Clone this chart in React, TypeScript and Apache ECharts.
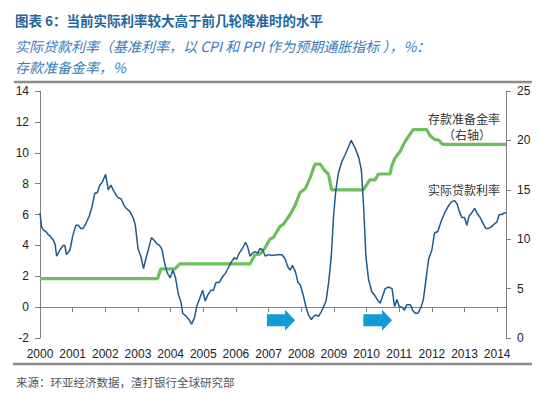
import React, { useEffect, useRef } from "react";
import * as echarts from "echarts";

const realRateYears = [
  2000.0, 2000.05, 2000.1, 2000.18, 2000.25, 2000.31, 2000.39, 2000.46, 2000.51, 2000.61, 2000.71, 2000.76, 2000.81, 2000.92,
  2001.0, 2001.1, 2001.17, 2001.25, 2001.32, 2001.4, 2001.51, 2001.58, 2001.68, 2001.75, 2001.83, 2001.91,
  2002.01, 2002.09, 2002.17, 2002.24, 2002.32, 2002.39, 2002.49, 2002.57, 2002.64, 2002.75, 2002.85, 2002.92,
  2003.0, 2003.1, 2003.17, 2003.25, 2003.34, 2003.41, 2003.51, 2003.58, 2003.66, 2003.74, 2003.81, 2003.9,
  2003.99, 2004.07, 2004.15, 2004.24, 2004.32, 2004.37, 2004.48, 2004.56, 2004.64, 2004.73, 2004.8, 2004.88,
  2004.98, 2005.06, 2005.14, 2005.24, 2005.31, 2005.39, 2005.49, 2005.6, 2005.68, 2005.78, 2005.85,
  2005.95, 2006.02, 2006.1, 2006.2, 2006.29, 2006.36, 2006.43, 2006.51, 2006.59, 2006.67, 2006.73, 2006.82, 2006.9,
  2007.0, 2007.1, 2007.26, 2007.41, 2007.51, 2007.59, 2007.66, 2007.73, 2007.82, 2007.9, 2007.97,
  2008.07, 2008.14, 2008.22, 2008.31, 2008.38, 2008.45, 2008.53, 2008.61, 2008.68, 2008.76, 2008.84, 2008.92, 2008.99,
  2009.06, 2009.14, 2009.24, 2009.35, 2009.45, 2009.53, 2009.65, 2009.76, 2009.84, 2009.91, 2009.98,
  2010.06, 2010.16, 2010.27, 2010.35, 2010.42, 2010.49, 2010.57, 2010.67, 2010.78, 2010.86, 2010.93,
  2011.0, 2011.08, 2011.16, 2011.23, 2011.34, 2011.41, 2011.49, 2011.57, 2011.67, 2011.74, 2011.82, 2011.9,
  2012.0, 2012.08, 2012.18, 2012.29, 2012.39, 2012.49, 2012.59, 2012.69, 2012.77, 2012.84, 2012.92,
  2013.0, 2013.07, 2013.14, 2013.22, 2013.31, 2013.38, 2013.48, 2013.55, 2013.65, 2013.73, 2013.82, 2013.92,
  2013.99, 2014.06, 2014.14, 2014.22, 2014.27,
];
const realRateValues = [
  6.1, 5.2, 5.0, 4.9, 4.7, 4.6, 4.4, 4.1, 3.3, 3.7, 4.0, 4.0, 3.4, 3.7,
  4.6, 5.3, 5.3, 5.1, 5.1, 5.4, 5.9, 6.4, 7.4, 7.4, 7.9, 8.1,
  8.6, 7.6, 7.9, 7.6, 7.3, 7.1, 7.0, 6.6, 6.4, 6.2, 5.8, 5.3,
  3.8, 3.2, 2.5, 3.2, 3.9, 4.5, 4.3, 4.1, 4.0, 3.7, 2.9, 2.2,
  1.9, 2.4, 1.9, 0.8, 0.3, -0.4, -0.6, -0.8, -1.1, -0.7, 0.05, 0.5,
  1.1, 0.4, 0.8, 1.1, 1.1, 1.6, 1.6, 2.0, 2.2, 2.6, 2.9,
  3.2, 3.1, 3.5, 3.8, 4.2, 3.9, 3.3, 3.5, 3.6, 3.5, 3.8, 3.7, 3.3,
  3.4, 3.35, 3.4, 3.4, 3.1, 2.6, 2.4, 2.7, 2.3, 1.6, 1.45,
  0.7, 0.04, -0.5, -0.8, -0.6, -0.5, -0.6, -0.3, 0.0, 0.4, 1.6, 3.3, 5.9,
  7.6, 8.7, 9.4, 9.9, 10.4, 10.8, 10.3, 9.7, 8.9, 6.5, 3.3,
  1.8, 1.0, 0.7, 0.4, 0.26, 0.7, 1.2, 1.3, 1.2, 0.04, 0.5,
  0.04, 0.0, -0.2, 0.15, 0.15, -0.2, -0.4, -0.4, 0.0, 0.5, 1.8, 3.1,
  3.7, 4.8, 4.9, 5.6, 6.1, 6.5, 6.8, 6.9, 6.7, 6.2, 5.8,
  5.8, 5.3, 5.9, 6.1, 6.4, 6.1, 5.8, 5.5, 5.1, 5.1, 5.2, 5.4,
  5.5, 6.0, 6.0, 6.1, 6.1,
];

// Reserve requirement ratio (right axis, %)
const rrrYears = [
  2000.0, 2003.6, 2003.7, 2004.13, 2004.28, 2006.43, 2006.58, 2006.74, 2006.89, 2007.04, 2007.15, 2007.35,
  2007.45, 2007.66, 2007.81, 2007.96, 2008.12, 2008.27, 2008.42, 2008.58, 2008.73, 2008.83, 2008.93,
  2009.9, 2010.1, 2010.26, 2010.36, 2010.72, 2010.77, 2010.87, 2011.03, 2011.18, 2011.43, 2011.84,
  2011.94, 2012.08, 2012.22, 2012.32, 2014.27,
];
const rrrValues = [
  6.0, 6.0, 7.0, 7.0, 7.5, 7.5, 8.4, 8.5, 9.1, 10.0, 10.2, 11.3,
  11.5, 12.5, 13.4, 14.7, 15.1, 16.2, 17.6, 17.6, 16.9, 16.6, 15.0,
  15.0, 16.0, 16.0, 16.6, 16.6, 17.4, 18.2, 18.9, 19.9, 21.1, 21.1,
  20.5, 20.1, 20.0, 19.6, 19.6,
];

// Arrows marking earlier RRR cut periods (years, left-axis level)
const arrowStartYears = [2006.95, 2009.9];
const arrowEndYears = [2007.81, 2010.78];
const arrowLevel = -0.85;

const titleText = "图表 6：当前实际利率较大高于前几轮降准时的水平";
const subtitle1 = "实际贷款利率（基准利率，以 CPI 和 PPI 作为预期通胀指标 ），%：";
const subtitle2 = "存款准备金率，%";
const sourceText = "来源：环亚经济数据，渣打银行全球研究部";
const rrrLabel = "存款准备金率";
const rrrAxisNote = "（右轴）";
const realRateLabel = "实际贷款利率";

const CJK = '"Noto Sans CJK SC", "Noto Sans", sans-serif';
const NUM = '"Liberation Sans Narrow", "Liberation Sans", Arial, sans-serif';
const AXIS = "#808080";

export default function App() {
  const ref = useRef<HTMLDivElement>(null);
  useEffect(() => {
    if (!ref.current) return;
    const chart = echarts.init(ref.current, undefined, { renderer: "svg" });
    const yearFmt = (v: number) => (Math.abs(v - Math.round(v)) < 1e-6 ? String(Math.round(v)) : "");
    const xBase = { type: "value" as const, min: 2000, max: 2014.27, interval: 1, splitLine: { show: false } };
    chart.setOption({
      animation: false,
      grid: { left: 40, right: 39, top: 91, bottom: 56, containLabel: false },
      xAxis: [
        {
          ...xBase,
          position: "bottom",
          axisLine: { show: true, onZero: true, onZeroAxisIndex: 0, lineStyle: { color: AXIS, width: 1 } },
          axisTick: { show: true, length: 5, lineStyle: { color: AXIS } },
          axisLabel: { show: false },
        },
        {
          ...xBase,
          position: "bottom",
          axisLine: { show: false, onZero: false },
          axisTick: { show: false },
          axisLabel: { show: true, margin: 10, formatter: yearFmt, fontFamily: NUM, fontSize: 12, color: "#222" },
        },
      ],
      yAxis: [
        {
          type: "value", min: -2, max: 14, interval: 2, position: "left",
          axisLine: { show: true, onZero: false, lineStyle: { color: AXIS } },
          axisTick: { show: true, length: 5, lineStyle: { color: AXIS } },
          axisLabel: { margin: 11, fontFamily: NUM, fontSize: 12, color: "#222" },
          splitLine: { show: false },
        },
        {
          type: "value", min: 0, max: 25, interval: 5, position: "right",
          axisLine: { show: true, onZero: false, lineStyle: { color: AXIS } },
          axisTick: { show: true, length: 5, lineStyle: { color: AXIS } },
          axisLabel: { margin: 11, fontFamily: NUM, fontSize: 12, color: "#222" },
          splitLine: { show: false },
        },
      ],
      series: [
        {
          name: rrrLabel, type: "line", xAxisIndex: 0, yAxisIndex: 1, showSymbol: false,
          data: rrrYears.map((x, i) => [x, rrrValues[i]]),
          lineStyle: { color: "#6dbf5e", width: 3.2 }, itemStyle: { color: "#6dbf5e" },
        },
        {
          name: realRateLabel, type: "line", xAxisIndex: 0, yAxisIndex: 0, showSymbol: false,
          data: realRateYears.map((x, i) => [x, realRateValues[i]]),
          lineStyle: { color: "#1d5a8e", width: 1.5 }, itemStyle: { color: "#1d5a8e" },
        },
      ],
    });

    const arrows = arrowStartYears.map((sx, i) => {
      const p0 = chart.convertToPixel({ xAxisIndex: 0, yAxisIndex: 0 }, [sx, arrowLevel]) as number[];
      const p1 = chart.convertToPixel({ xAxisIndex: 0, yAxisIndex: 0 }, [arrowEndYears[i], arrowLevel]) as number[];
      const x0 = p0[0], x1 = p1[0], yc = p0[1];
      const headLen = 10, bodyH = 6, headH = 10.5;
      return {
        type: "polygon",
        shape: {
          points: [
            [x0, yc - bodyH], [x1 - headLen, yc - bodyH], [x1 - headLen, yc - headH], [x1, yc],
            [x1 - headLen, yc + headH], [x1 - headLen, yc + bodyH], [x0, yc + bodyH],
          ],
        },
        style: { fill: "#129bd8" },
        silent: true,
      };
    });

    chart.setOption({
      graphic: [
        { type: "text", x: 15, y: 20, style: { text: titleText, fontFamily: CJK, fontSize: 13.5, fontWeight: "bold", fill: "#1f66a0", verticalAlign: "middle" } },
        { type: "text", x: 15, y: 46, style: { text: subtitle1, fontFamily: CJK, fontSize: 14, fontStyle: "italic", fill: "#3b7cba", verticalAlign: "middle" } },
        { type: "text", x: 15, y: 67, style: { text: subtitle2, fontFamily: CJK, fontSize: 14, fontStyle: "italic", fill: "#3b7cba", verticalAlign: "middle" } },
        { type: "line", shape: { x1: 14, y1: 82, x2: 532, y2: 82 }, style: { stroke: "#8c8c8c", lineWidth: 2.5 } },
        { type: "line", shape: { x1: 13, y1: 364, x2: 532, y2: 364 }, style: { stroke: "#8c8c8c", lineWidth: 2.5 } },
        { type: "text", x: 16, y: 382, style: { text: sourceText, fontFamily: CJK, fontSize: 11.5, fill: "#555", verticalAlign: "middle" } },
        { type: "text", x: 500, y: 118, style: { text: rrrLabel, fontFamily: CJK, fontSize: 12, fill: "#333", align: "right", verticalAlign: "middle" } },
        { type: "text", x: 467, y: 134, style: { text: rrrAxisNote, fontFamily: CJK, fontSize: 12, fill: "#333", align: "center", verticalAlign: "middle" } },
        { type: "text", x: 500, y: 189, style: { text: realRateLabel, fontFamily: CJK, fontSize: 12, fill: "#333", align: "right", verticalAlign: "middle" } },
        ...arrows,
      ],
    });
    return () => chart.dispose();
  }, []);
  return (
    <div
      ref={ref}
      style={{ position: "fixed", left: 0, top: 0, width: 545, height: 394, background: "#fff" }}
    />
  );
}
